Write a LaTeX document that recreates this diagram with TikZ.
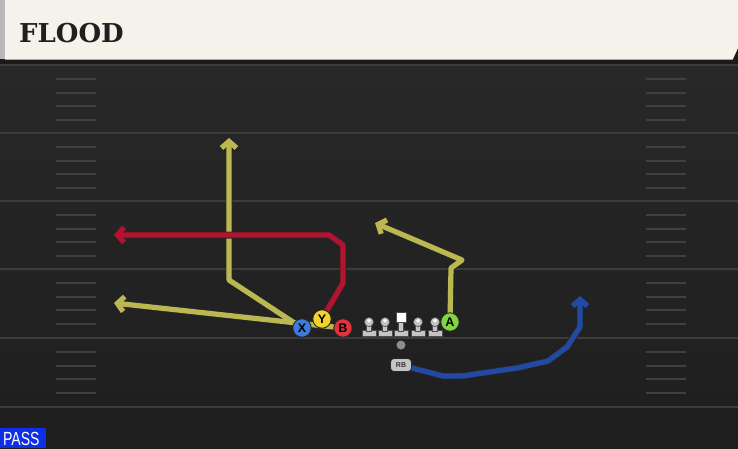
\documentclass[tikz,border=0pt]{standalone}
\usepackage{fontspec}
\setmainfont{DejaVu Serif}
\setsansfont{Liberation Sans}
\usetikzlibrary{arrows.meta}
\definecolor{cream}{HTML}{F5F2EC}
\definecolor{stripe}{HTML}{B8B8B8}
\definecolor{band}{HTML}{1A1A1A}
\definecolor{fieldtop}{HTML}{282828}
\definecolor{fieldbot}{HTML}{1E1E1E}
\definecolor{yardc}{HTML}{3C3C3C}
\definecolor{hashc}{HTML}{404040}
\definecolor{ryellow}{HTML}{BBB852}
\definecolor{rred}{HTML}{B3132F}
\definecolor{rblue}{HTML}{234AA3}
\definecolor{pblue}{HTML}{3D7BDB}
\definecolor{pyellow}{HTML}{F4D22C}
\definecolor{pred}{HTML}{E2323C}
\definecolor{pgreen}{HTML}{7FD640}
\definecolor{lgray}{HTML}{C4C4C4}
\definecolor{passblue}{HTML}{0E2FE6}
\tikzset{
  route/.style={line width=5.2pt, line join=round, line cap=round},
  routeout/.style={line width=7pt, line join=round, line cap=round},
  tip/.style={-{Straight Barb[length=6.5pt,width=15pt]}},
  player/.style={circle, draw=black!85, line width=0.9pt, minimum size=18.5pt, inner sep=0pt,
    font=\sffamily\bfseries\fontsize{12.5}{12.5}\selectfont},
  yard/.style={draw=yardc, line width=2pt},
  hash/.style={draw=hashc, line width=2pt},
  lineman/.pic={
    \fill[lgray, draw=black!70, line width=0.6pt] (-7,8.5) rectangle (7,14.5);
    \fill[lgray, draw=black!70, line width=0.6pt] (-2.6,1) rectangle (2.6,9);
    \fill[lgray, draw=black!70, line width=0.6pt] (0,0) circle (4.6);
    \fill[white!90!lgray] (0,-1.2) circle (1.9);
  }
}
\begin{document}
\begin{tikzpicture}[x=1pt,y=-1pt]
\useasboundingbox (0,0) rectangle (738,448);
% field
\shade[top color=fieldtop, bottom color=fieldbot] (0,64) rectangle (738,448);
\fill[band] (0,0) rectangle (738,64);
% header
\fill[stripe] (0,0) rectangle (5,59);
\fill[cream] (5,0) -- (738,0) -- (738,48) -- (733,59) -- (5,59) -- cycle;
\draw[black!35, line width=0.8pt] (5,59) -- (733,59);
\node[anchor=base west, inner sep=0pt, text=black!88,
  font=\fontsize{26}{26}\selectfont\bfseries] (title) at (19,42) {FLOOD};
% yard lines and hashes
\foreach \y in {65,133,201,269,338,407} {
  \draw[yard] (0,\y) -- (738,\y);
}
\foreach \y in {65,133,201,269,338} {
  \foreach \d in {14,27.5,41,55} {
    \draw[hash] (56,\y+\d) -- (96,\y+\d);
    \draw[hash] (646,\y+\d) -- (686,\y+\d);
  }
}
% player positions
\coordinate (Xp) at (302,328);
\coordinate (Yp) at (322,319);
\coordinate (Bp) at (343,328);
\coordinate (Ap) at (450,322);
\coordinate (RBp) at (401,365);
\coordinate (Xend) at (229,138);
\coordinate (Bend) at (114,303);
\coordinate (Yend) at (114,235);
\coordinate (Aend) at (375,223);
\coordinate (RBend) at (580,296);
% routes (outline then colour)
\foreach \c/\s in {black!85/routeout, ryellow/route} {
  \draw[\s, tip, draw=\c] (Xp) -- (229,280) -- (Xend);
  \draw[\s, tip, draw=\c] (Bp) -- (Bend);
  \draw[\s, tip, draw=\c] (Ap) -- (451,268) -- (462,260) -- (Aend);
}
\foreach \c/\s in {black!85/routeout, rred/route} {
  \draw[\s, tip, draw=\c] (Yp) -- (343,283) -- (343,245) -- (329,235) -- (Yend);
}
\foreach \c/\s in {black!85/routeout, rblue/route} {
  \draw[\s, tip, draw=\c] (RBp) -- (412,368) -- (443,376) -- (462,376) -- (517,368)
    -- (548,361) -- (567,347) -- (580,327) -- (RBend);
}
% offensive line
\foreach \x in {369,385,418,435} {
  \pic at (\x,322) {lineman};
}
\fill[lgray, draw=black!70, line width=0.6pt] (394,330.5) rectangle (408,336.5);
\fill[lgray, draw=black!70, line width=0.6pt] (398.4,321) rectangle (403.6,331);
\node[draw=black!70, fill=white, line width=0.6pt, minimum size=10pt, inner sep=0pt] (C) at (401,317.5) {};
% ball
\node[circle, fill=black!45, minimum size=9pt, inner sep=0pt] (ball) at (401,345) {};
% players
\node[player, fill=pblue] (X) at (Xp) {X};
\node[player, fill=pyellow] (Y) at (Yp) {Y};
\node[player, fill=pred] (B) at (Bp) {B};
\node[player, fill=pgreen] (A) at (Ap) {A};
\node[draw=black!85, fill=lgray, rounded corners=3.5pt, line width=0.8pt, minimum width=21pt,
  minimum height=13pt, inner sep=0pt, font=\sffamily\bfseries\fontsize{7}{7}\selectfont, text=black!80] (RB) at (RBp) {RB};
% pass tag
\fill[passblue] (0,428) rectangle (46,448);
\node[anchor=base west, inner sep=0pt, text=white, font=\sffamily\fontsize{19}{19}\selectfont,
  xscale=0.74] (pass) at (3,445.5) {PASS};
\end{tikzpicture}
\end{document}
